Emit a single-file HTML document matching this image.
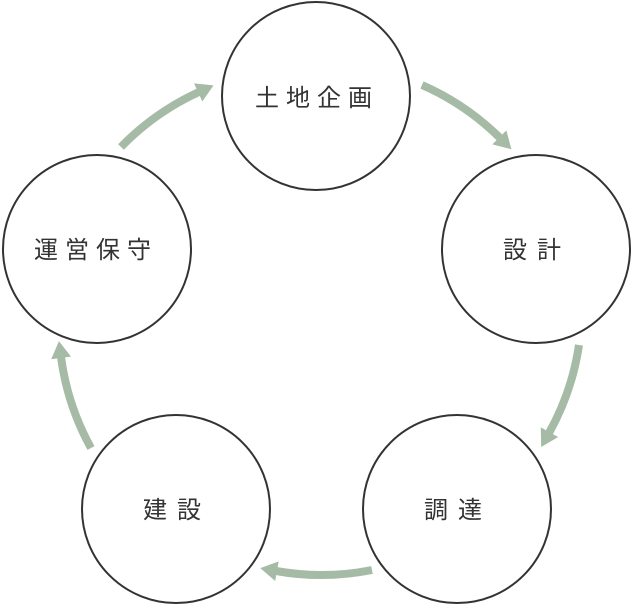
<!DOCTYPE html>
<html><head><meta charset="utf-8"><style>
html,body{margin:0;padding:0;background:#fff;}
svg{display:block}
text{font-family:"Liberation Sans","Noto Sans CJK JP",sans-serif;font-size:24px;fill:#333}
.f{letter-spacing:7px}
.t{letter-spacing:10px}
</style></head><body>
<svg width="632" height="616" viewBox="0 0 632 616">
<defs>
<marker id="h" markerUnits="userSpaceOnUse" markerWidth="20" markerHeight="22" refX="1" refY="11" orient="auto">
<path d="M0,1 L17,11 L0,21 Z" fill="#a6bba6"/>
</marker>
</defs>
<g fill="none" stroke="#a6bba6" stroke-width="8" marker-end="url(#h)">
<path d="M422,85 A258 258 0 0 1 500,138"/>
<path d="M579,345 A258 258 0 0 1 549,433"/>
<path d="M372,570 A258 258 0 0 1 276,571"/>
<path d="M91,448 A258 258 0 0 1 61,357"/>
<path d="M121,147 A258 258 0 0 1 199,92"/>
</g>
<g fill="#fff" stroke="#333" stroke-width="2">
<circle cx="316" cy="96" r="94"/>
<circle cx="536" cy="249" r="94"/>
<circle cx="457" cy="509" r="94"/>
<circle cx="176" cy="509" r="94"/>
<circle cx="97" cy="249" r="94"/>
</g>
<text class="f" x="255" y="106">土地企画</text>
<text class="t" x="503" y="258">設計</text>
<text class="t" x="424" y="518">調達</text>
<text class="t" x="143" y="518">建設</text>
<text class="f" x="34" y="258">運営保守</text>
</svg>
</body></html>
